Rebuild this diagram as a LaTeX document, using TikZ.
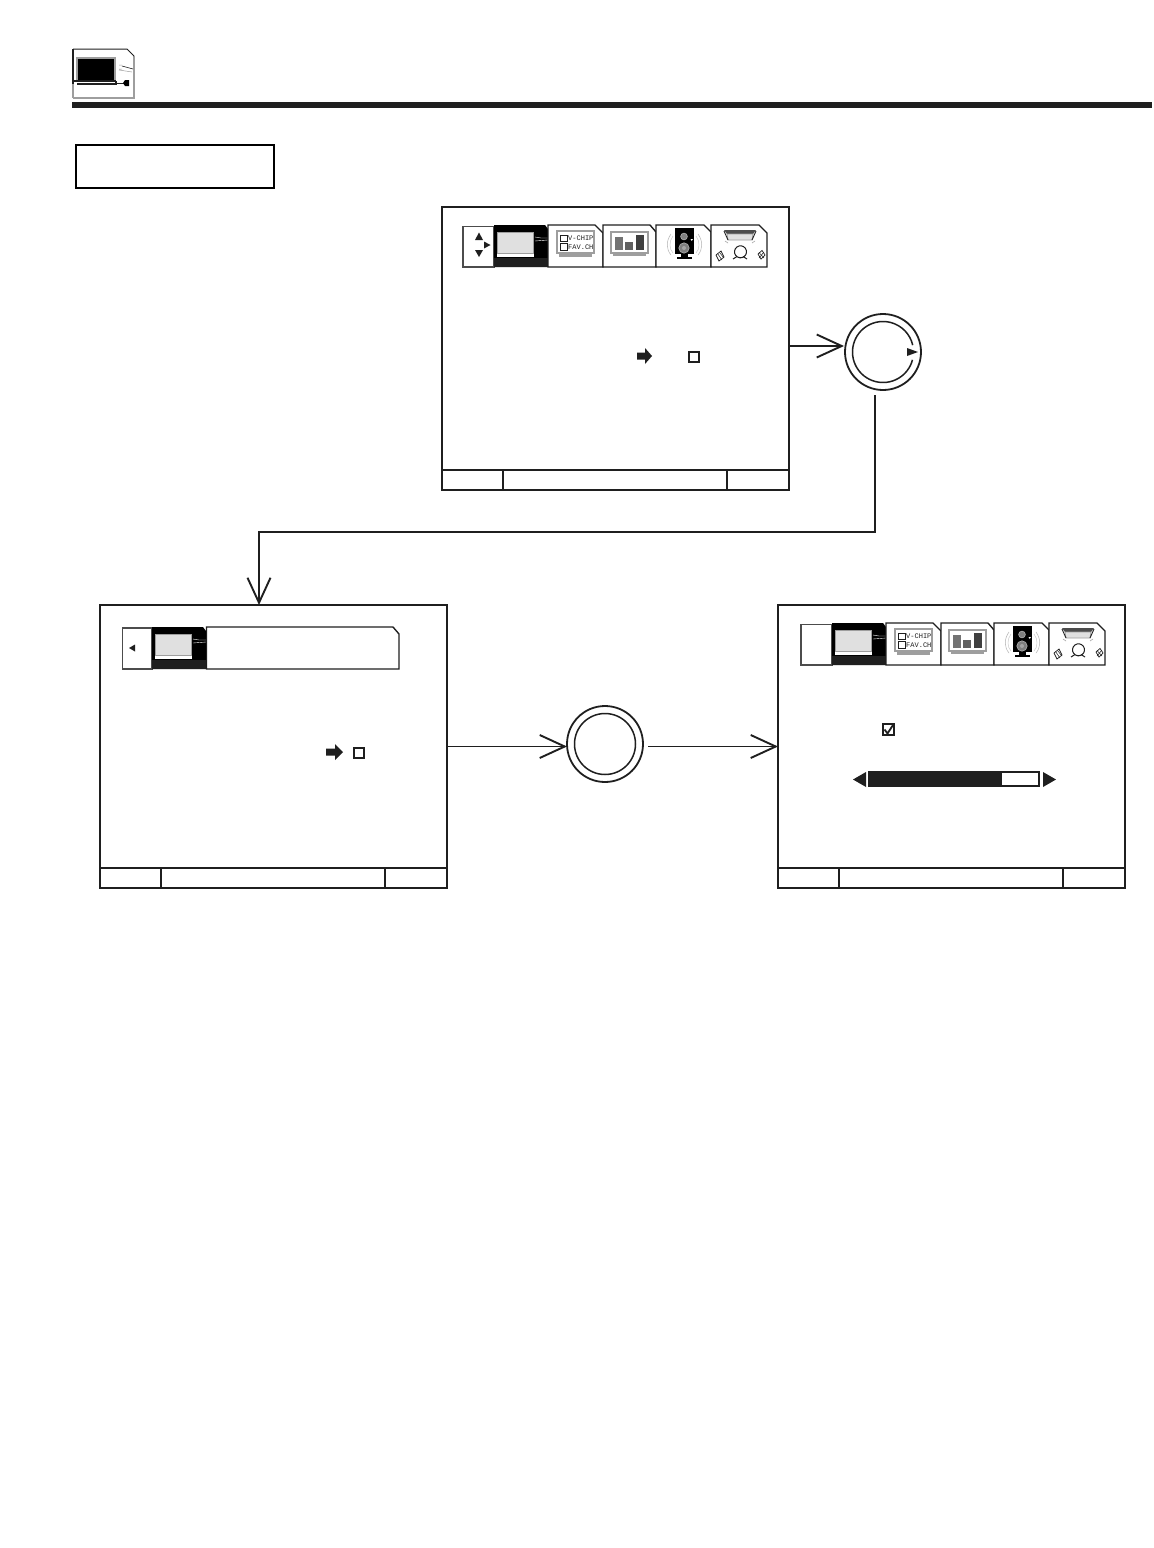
\documentclass[tikz,border=0pt]{standalone}
\usepackage{fontspec}
\setmonofont{Liberation Mono}
\usetikzlibrary{arrows.meta}
\definecolor{ink}{gray}{0.12}
\definecolor{scr}{gray}{0.88}
\definecolor{fr}{gray}{0.62}
\tikzset{
 x=1pt,y=-1pt,
 panel/.style={draw=ink,line width=2pt,fill=white,minimum width=347pt,minimum height=283pt,inner sep=0pt,outer sep=0pt},
 titlebox/.style={draw=black,line width=2.4pt,fill=white,minimum width=198pt,minimum height=43pt,inner sep=0pt,outer sep=0pt},
 dial/.style={circle,draw=ink,line width=1.8pt,fill=white,minimum size=76pt,inner sep=0pt,outer sep=0pt},
 flow/.style={draw=ink,line width=1.9pt,-{Straight Barb[length=25pt,width=23pt,line width=1.9pt]}},
 tab/.style={draw=ink,line width=1.4pt,fill=white},
 cell/.style={draw=black!70,line width=1.1pt,fill=white},
 thin frame/.style={draw=fr,line width=1pt,fill=scr},
 chiptext/.style={font=\ttfamily\fontsize{7}{7}\selectfont,text=ink,inner sep=0pt,anchor=west},
}
% black selected TV tab, drawn at top-panel coordinates
\newcommand{\tvtab}{%
 \fill[black] (494,225) -- (545,225) -- (548,229) -- (548,267) -- (494,267) -- cycle;
 \fill[ink] (494,258) rectangle (548,267);
 \draw[thin frame] (497.5,232) rectangle (533.5,253);
 \fill[white] (497,254) rectangle (534,257);
 \draw[white,line width=.4pt] (535,237) -- (541,238) -- (548,238);
 \draw[white,line width=.4pt] (535,241) -- (548,240);
}
\newcommand{\iconstrip}[1]{%
 \draw[cell] (463,226.5) rectangle (494,267);
 \tvtab
 % V-chip tab
 \draw[tab] (548,267) -- (548,225) -- (595,225) -- (603,233) -- (603,267) -- cycle;
 \draw[fill=white,draw=fr,line width=1.2pt] (557,231) rectangle (594,253);
 \fill[fr] (559,253) rectangle (592,256.5);
 \draw[ink,line width=.7pt] (560.5,235) rectangle (567,241);
 \draw[ink,line width=.7pt] (560.5,243.5) rectangle (567,250);
 \node[chiptext] (#1vchip) at (568,238) {V-CHIP};
 \node[chiptext] (#1fav) at (568,247) {FAV.CH};
 % bars tab
 \draw[tab] (603,267) -- (603,225) -- (650,225) -- (656,232) -- (656,267) -- cycle;
 \draw[fill=white,draw=fr,line width=1.6pt] (611,232) rectangle (648,253);
 \fill[fr] (613,253) rectangle (646,256);
 \fill[black!55] (614.5,236.5) rectangle (622.5,250);
 \fill[black!62] (625,242) rectangle (633,250);
 \fill[black!75] (636,235) rectangle (644,250);
 % speaker tab
 \draw[tab] (656,267) -- (656,225) -- (704,225) -- (711,232) -- (711,267) -- cycle;
 \fill[black] (675,228) rectangle (694,254);
 \fill[black] (681,254) rectangle (688,257);
 \fill[black] (677,257) rectangle (692,259);
 \filldraw[fill=black!50,draw=white!70!black,line width=.6pt] (684,236.5) circle (3.4);
 \filldraw[fill=black!50,draw=white!70!black,line width=.6pt] (684,248) circle (5.2);
 \fill[black!35] (684,248) circle (2);
 \fill[white] (690.5,239) -- (693,239) -- (691.7,241) -- cycle;
 \draw[gray!60,line width=.5pt] (671,234) .. controls (666,241) and (666,249) .. (671,255);
 \draw[gray!60,line width=.5pt] (698,234) .. controls (703,241) and (703,249) .. (698,255);
 \draw[gray!40,line width=.5pt] (673,236) .. controls (669,241) and (669,249) .. (673,253);
 \draw[gray!40,line width=.5pt] (696,236) .. controls (700,241) and (700,249) .. (696,253);
 % surround tab
 \draw[tab] (711,267) -- (711,225) -- (759,225) -- (767,233) -- (767,267) -- cycle;
 \fill[black!70] (724,230) -- (756,230) -- (753,234) -- (727,234) -- cycle;
 \draw[fr,fill=scr,line width=.7pt] (727,234) -- (753,234) -- (752,240) -- (728,240) -- cycle;
 \draw[ink,line width=.9pt] (724,231) -- (728,240) (756,231) -- (752,240);
 \draw[gray!70,line width=.6pt] (725,241) -- (728,243) (755,241) -- (752,243);
 \draw[ink,line width=1pt] (737.5,257) arc[start angle=120,end angle=-300,radius=6] ;
 \draw[ink,line width=1pt] (737,256.5) -- (733,259) (743,256.5) -- (747,259);
 \draw[ink,line width=.7pt] (716,255) -- (721,251) -- (724,257) -- (719,261) -- cycle;
 \draw[ink,line width=.5pt] (717.5,253.5) -- (722,260) (719.5,252.5) -- (724,258);
 \draw[ink,line width=.7pt] (758,254) -- (762,250.5) -- (765,255) -- (761,259) -- cycle;
 \draw[ink,line width=.5pt] (759,252.5) -- (764,258) (764,252) -- (759,258);
}
\begin{document}
\begin{tikzpicture}
\useasboundingbox (0,0) rectangle (1154,1548);
\fill[white] (0,0) rectangle (1154,1548);

% header icon
\draw[fr,line width=1.2pt] (73,98) -- (134,98) -- (134,56);
\draw[ink,line width=1pt] (73,49) -- (127,49) -- (134,56);
\draw[ink,line width=1.6pt] (73,49) -- (73,84);
\draw[fr,line width=1.2pt] (73,84) -- (73,98);
\fill[fr] (76,57) rectangle (116,81);
\fill[black] (78,59) rectangle (114,80);
\draw[ink,line width=1.1pt] (73,81) -- (116,81);
\draw[ink,line width=1.1pt] (77,84) -- (116,84) -- (116,81);
\draw[ink,line width=.8pt] (116,83) -- (124,83);
\fill[black] (125,80) -- (129,80) -- (129,86) -- (125,86) -- (123,83) -- cycle;
\draw[ink,line width=.6pt] (122,66) -- (133,69);
\draw[fr,line width=.5pt] (119,65) -- (122,65) (119,69) -- (122,69) (119,70) -- (132,72);

% header rule
\fill[ink] (72,102) rectangle (1152,108);

% title box
\node[titlebox] (title) at (175,166.5) {};

% panels
\node[panel] (topP) at (615.5,348.5) {};
\node[panel] (leftP) at (273.5,746.5) {};
\node[panel] (rightP) at (951.5,746.5) {};

% panel footers
\draw[ink,line width=2pt] (442,470) -- (789,470) (503,470) -- (503,490) (727,470) -- (727,490);
\draw[ink,line width=2pt] (100,868) -- (447,868) (161,868) -- (161,888) (385,868) -- (385,888);
\draw[ink,line width=2pt] (778,868) -- (1125,868) (839,868) -- (839,888) (1063,868) -- (1063,888);

% top panel menu
\iconstrip{ta}
\fill[ink] (479,232.5) -- (475,240) -- (483,240) -- cycle;
\fill[ink] (490.5,245) -- (484,241.5) -- (484,248.5) -- cycle;
\fill[ink] (479,257) -- (475,250) -- (483,250) -- cycle;
\fill[ink] (637,352.5) -- (645,352.5) -- (645,348) -- (652,356) -- (645,364) -- (645,359.5) -- (637,359.5) -- cycle;
\draw[ink,line width=2pt] (688.5,351.5) rectangle (698.5,361.5);

% left panel menu
\draw[cell] (122.5,628) rectangle (152,669);
\draw[tab] (206.5,669) -- (206.5,627) -- (393,627) -- (399,634) -- (399,669) -- cycle;
\begin{scope}[shift={(-342,402)}]
 \tvtab
\end{scope}
\fill[ink] (129,648) -- (135,644.5) -- (135,651.5) -- cycle;
\fill[ink] (326,748.5) -- (335,748.5) -- (335,744) -- (343,752) -- (335,760) -- (335,755.5) -- (326,755.5) -- cycle;
\draw[ink,line width=2pt] (353.5,747.5) rectangle (363.5,757.5);

% right panel menu
\begin{scope}[shift={(338,398)}]
 \iconstrip{ra}
\end{scope}
\fill[ink] (882,723) rectangle (894.5,736);
\fill[white] (884,725) rectangle (892.5,734);
\draw[ink,line width=1.8pt] (884.5,729.5) -- (887.5,733.5) -- (893,725);
\fill[ink] (853,779.5) -- (866,772) -- (866,787) -- cycle;
\fill[ink] (868,771) rectangle (1040,787);
\fill[white] (1002,773) rectangle (1038,785);
\fill[ink] (1056,779.5) -- (1043,772) -- (1043,787) -- cycle;

% dials
\node[dial] (dialA) at (883,352) {};
\node[dial] (dialB) at (605,744) {};
\draw[ink,line width=1.5pt] (dialB.center) circle (30.5);
\draw[ink,line width=1.5pt] (dialA.center) ++(15:30.5) arc[start angle=15,end angle=347,radius=30.5];
\fill[ink] (907,348) -- (918,352) -- (907,356) -- cycle;

% connectors
\draw[flow] ([yshift=2.5pt]topP.east) -- ([xshift=-1pt,yshift=6pt]dialA.west);
\draw[flow] ([xshift=-8pt,yshift=-5pt]dialA.south) |- (259,532) -- (leftP.north -| 259,605);
\draw[flow] (leftP.east) -- ([yshift=-2.5pt]dialB.west);
\draw[flow] ([xshift=5pt,yshift=-2.5pt]dialB.east) -- (rightP.west);
\end{tikzpicture}
\end{document}
